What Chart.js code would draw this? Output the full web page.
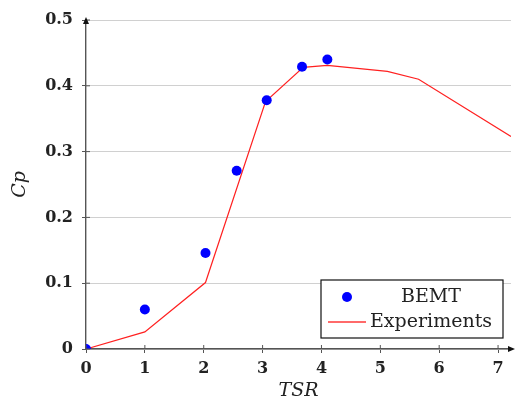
<!DOCTYPE html>
<html>
<head>
<title>Cp vs TSR</title>
<style> html, body { margin: 0; padding: 0; background: #fff; } #wrap { width: 516px; height: 405px; } </style>
</head>
<body>
<div id="wrap"><canvas id="cpChart"></canvas></div>
<script src="https://cdn.jsdelivr.net/npm/chart.js@4"></script>
<script>
// BEMT prediction (points)
let tsrBemt = [0, 1.0, 2.03, 2.56, 3.07, 3.67, 4.1];
let cpBemt = [0, 0.060, 0.146, 0.271, 0.378, 0.429, 0.440];
// measured curve (line)
let tsrExp = [0, 1.0, 2.03, 3.05, 3.69, 4.1, 5.12, 5.65, 7.22];
let cpExp = [0, 0.026, 0.101, 0.376, 0.428, 0.431, 0.422, 0.410, 0.323];
// axis ticks
let xTicks = [0, 1, 2, 3, 4, 5, 6, 7];
let yTicks = [0, 0.1, 0.2, 0.3, 0.4, 0.5];

let axisColor = '#555', textColor = '#222';
let tickFont = { family: 'DejaVu Serif', size: 16, weight: 'bold' };
let titleFont = { family: 'DejaVu Serif', size: 19, style: 'italic' };

function pts(xs, ys) { return xs.map((x, i) => ({ x: x, y: ys[i] })); }

// arrows, inner tick marks and the boxed legend
let extras = {
  id: 'extras',
  afterDraw(chart) {
    let ctx = chart.ctx, xs = chart.scales.x, ys = chart.scales.y;
    let x0 = xs.getPixelForValue(0), y0 = ys.getPixelForValue(0);
    ctx.save();
    ctx.strokeStyle = axisColor; ctx.fillStyle = '#111'; ctx.lineWidth = 1;
    xTicks.forEach(v => { let p = xs.getPixelForValue(v); ctx.beginPath(); ctx.moveTo(p, y0 - 4); ctx.lineTo(p, y0); ctx.stroke(); });
    yTicks.forEach(v => { let p = ys.getPixelForValue(v); ctx.beginPath(); ctx.moveTo(x0, p); ctx.lineTo(x0 + 4, p); ctx.stroke(); });
    // arrow heads
    let top = ys.getPixelForValue(0.5);
    ctx.beginPath(); ctx.moveTo(x0, top - 3); ctx.lineTo(x0 - 3, top + 4); ctx.lineTo(x0 + 3, top + 4); ctx.closePath(); ctx.fill();
    ctx.beginPath(); ctx.moveTo(515, y0); ctx.lineTo(508, y0 - 3); ctx.lineTo(508, y0 + 3); ctx.closePath(); ctx.fill();

    // legend
    let bx = 321, by = 280, bw = 182, bh = 58;
    ctx.fillStyle = '#fff'; ctx.fillRect(bx, by, bw, bh);
    ctx.strokeStyle = '#111'; ctx.lineWidth = 1.2; ctx.strokeRect(bx, by, bw, bh);
    let ds = chart.data.datasets;
    ctx.fillStyle = ds[0].backgroundColor;
    ctx.beginPath(); ctx.arc(347, 297, 5, 0, Math.PI * 2); ctx.fill();
    ctx.strokeStyle = '#ff6a6a'; ctx.lineWidth = 1.8;
    ctx.beginPath(); ctx.moveTo(328, 322); ctx.lineTo(366, 322); ctx.stroke();
    ctx.fillStyle = textColor; ctx.font = '19px "DejaVu Serif"'; ctx.textBaseline = 'middle';
    ctx.textAlign = 'center'; ctx.fillText(ds[0].label, 431, 297);
    ctx.textAlign = 'left'; ctx.fillText(ds[1].label, 370, 322);
    ctx.restore();
  }
};

let cpChart = new Chart(document.getElementById('cpChart'), {
  type: 'scatter',
  data: {
    datasets: [{
      label: 'BEMT',
      data: pts(tsrBemt, cpBemt),
      backgroundColor: '#0000ff',
      borderColor: '#0000ff',
      pointRadius: 5,
      borderWidth: 0
    }, {
      label: 'Experiments',
      data: pts(tsrExp, cpExp),
      showLine: true,
      borderColor: '#ff2020',
      borderWidth: 1.2,
      pointRadius: 0,
      fill: false
    }]
  },
  options: {
    responsive: true,
    maintainAspectRatio: false,
    animation: false,
    layout: { padding: { top: 20, right: 0, left: 0, bottom: 0 } },
    plugins: { legend: { display: false }, tooltip: { enabled: false } },
    scales: {
      x: {
        type: 'linear', min: 0, max: 7.22,
        afterFit(s) { s.height = 56; },
        afterBuildTicks(s) { s.ticks = xTicks.map(v => ({ value: v })); },
        border: { color: axisColor, width: 1.4 },
        grid: { drawOnChartArea: false, tickLength: 4, tickColor: axisColor },
        ticks: { color: textColor, font: tickFont, padding: 6, maxRotation: 0, callback: v => String(v) },
        title: { display: true, text: 'TSR', color: textColor, font: titleFont, padding: { top: 0, bottom: 3 } }
      },
      y: {
        min: 0, max: 0.5,
        afterFit(s) { s.width = 86; },
        afterBuildTicks(s) { s.ticks = yTicks.map(v => ({ value: v })); },
        border: { color: axisColor, width: 1.4 },
        grid: { color: '#d0d0d0', lineWidth: 1, tickLength: 4, tickColor: axisColor },
        ticks: { color: textColor, font: tickFont, padding: 9, callback: v => v === 0 ? '0' : v.toFixed(1) },
        title: { display: true, text: 'Cp', color: textColor, font: titleFont, padding: { top: 9, bottom: 0 } }
      }
    }
  },
  plugins: [extras]
});
</script>
</body>
</html>
